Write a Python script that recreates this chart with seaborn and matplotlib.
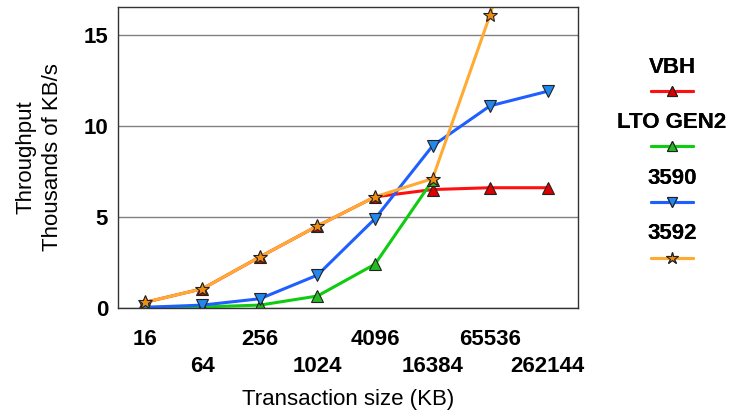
import matplotlib
matplotlib.use('Agg')
import matplotlib.pyplot as plt
from matplotlib.lines import Line2D
import seaborn as sns
import pandas as pd
import numpy as np

# --- data
sizes = ['16', '64', '256', '1024', '4096', '16384', '65536', '262144']
vbh = [0.3, 1.05, 2.8, 4.5, 6.1, 6.5, 6.6, 6.6]
lto_gen2 = [0.02, 0.05, 0.15, 0.65, 2.4, 7.0, np.nan, np.nan]
ibm3590 = [0.03, 0.15, 0.5, 1.8, 4.9, 8.9, 11.1, 11.9]
ibm3592 = [0.3, 1.05, 2.8, 4.5, 6.1, 7.1, 16.1, 27.0]

series = ['VBH', 'LTO GEN2', '3590', '3592']
values = [vbh, lto_gen2, ibm3590, ibm3592]

rows = []
for name, vals in zip(series, values):
    for i, v in enumerate(vals):
        rows.append({'pos': i, 'val': v, 'series': name})
df = pd.DataFrame(rows)

line_colors = {'VBH': '#ff1010', 'LTO GEN2': '#10cc10', '3590': '#1f5fff', '3592': '#ffaa33'}
face_colors = {'VBH': '#dd0000', 'LTO GEN2': '#22bb22', '3590': '#2288ee', '3592': '#f08c10'}
markers = {'VBH': '^', 'LTO GEN2': '^', '3590': 'v', '3592': '*'}
msize = {'VBH': 8, 'LTO GEN2': 8, '3590': 8, '3592': 10}

sns.set_theme(style='white')
plt.rcParams['font.family'] = ['Liberation Sans', 'DejaVu Sans']
for k in ['text.color', 'axes.labelcolor', 'xtick.color', 'ytick.color']:
    plt.rcParams[k] = 'black'

fig = plt.figure(figsize=(7.32, 4.16), dpi=100)
ax = fig.add_axes([0.161, 0.26, 0.628, 0.7236])

for name in series:
    sub = df[df['series'] == name]
    sns.lineplot(data=sub, x='pos', y='val', ax=ax, color=line_colors[name],
                 linewidth=2.2, marker=markers[name], markersize=msize[name],
                 markerfacecolor=face_colors[name], markeredgecolor='#222222',
                 markeredgewidth=0.8, legend=False)

ax.set_xlim(-0.47, 7.52)
ax.set_ylim(0, 16.54)
ax.set_yticks([0, 5, 10, 15])
ax.set_yticklabels(['0', '5', '10', '15'], fontsize=16, fontweight='bold')

# staggered x labels: even ones on major ticks, odd ones on minor ticks further down
ax.set_xticks(range(0, len(sizes), 2))
ax.set_xticklabels(sizes[0::2], fontsize=16, fontweight='bold')
ax.set_xticks(range(1, len(sizes), 2), minor=True)
ax.set_xticklabels(sizes[1::2], minor=True, fontsize=16, fontweight='bold')
ax.tick_params(axis='x', which='major', length=0, pad=15)
ax.tick_params(axis='x', which='minor', length=0, pad=34.5)
ax.tick_params(axis='y', length=0, pad=7)
ax.yaxis.grid(True, which='major', color='#808080', linewidth=1.0)
ax.xaxis.grid(False, which='both')
ax.set_axisbelow(True)
for sp in ax.spines.values():
    sp.set_color('#333333')
    sp.set_linewidth(1.0)

ax.set_xlabel('Transaction size (KB)', fontsize=16, labelpad=9)
ax.set_ylabel('Throughput\nThousands of KB/s', fontsize=16, labelpad=15, linespacing=1.3)

# legend: one small legend per series, name above the sample line
ys = [0.8125, 0.68, 0.5445, 0.412]
for name, y in zip(series, ys):
    h = Line2D([], [], color=line_colors[name], linewidth=2.2, marker=markers[name],
               markersize=msize[name] - 1,
               markerfacecolor=face_colors[name], markeredgecolor='#222222',
               markeredgewidth=0.8)
    leg = fig.legend(handles=[h], labels=[''], title=name, loc='center',
                     bbox_to_anchor=(0.918, y), frameon=False, handlelength=2.7,
                     handletextpad=0, borderpad=0,
                     title_fontproperties={'weight': 'bold', 'size': 16})
    fig.add_artist(leg)

fig.savefig('out.png', dpi=100)
